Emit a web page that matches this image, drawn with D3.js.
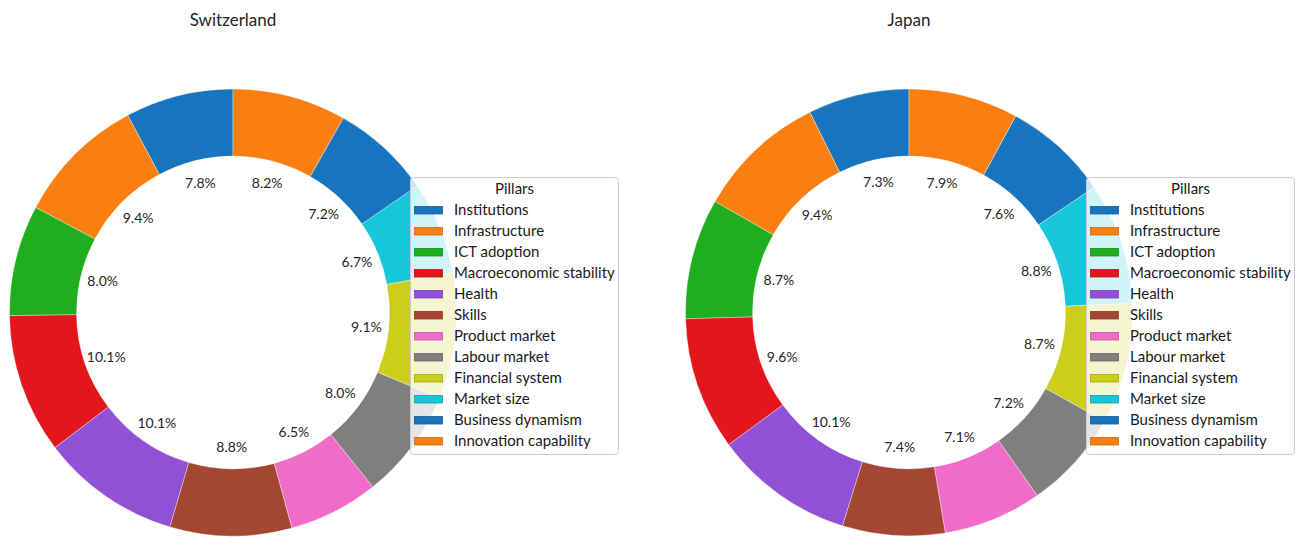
<!DOCTYPE html>
<html>
<head>
<meta charset="utf-8">
<script src="https://cdn.jsdelivr.net/npm/d3@7"></script>
<style>
  html, body { margin: 0; padding: 0; background: #ffffff; }
  svg { display: block; }
  text { font-family: Lato, "Noto Sans", sans-serif; }
</style>
</head>
<body>
<svg id="chart" width="1296" height="538"></svg>
<script>
// Global Competitiveness pillars and each pillar's share of the overall score (%)
const pillars = [
  "Institutions", "Infrastructure", "ICT adoption", "Macroeconomic stability",
  "Health", "Skills", "Product market", "Labour market",
  "Financial system", "Market size", "Business dynamism", "Innovation capability"
];
const countries = ["Switzerland", "Japan"];
const switzerlandShares = [7.8, 9.4, 8.0, 10.1, 10.1, 8.8, 6.5, 8.0, 9.1, 6.7, 7.2, 8.2];
const japanShares = [7.3, 9.4, 8.7, 9.6, 10.1, 7.4, 7.1, 7.2, 8.7, 8.8, 7.6, 7.9];

// Ten-colour categorical cycle; the eleventh and twelfth pillars wrap around
const palette = ["#1675be", "#fb7e10", "#1eae1e", "#e3161c", "#9150d6",
                 "#a34632", "#f06cc8", "#7f7f7f", "#cdcd1c", "#15c7d8"];

const svg = d3.select("#chart");
const color = d3.scaleOrdinal().domain(pillars).range(palette);

const panels = [
  { name: countries[0], shares: switzerlandShares, cx: 233, legendX: 410 },
  { name: countries[1], shares: japanShares, cx: 909, legendX: 1086 }
];

const cy = 312.5;
const outerR = 223.5;
const innerR = outerR * 0.7;
const labelR = outerR * 0.6;

// Wedges start at twelve o'clock and run counter-clockwise
const pie = d3.pie().sort(null).startAngle(0).endAngle(-2 * Math.PI);
const arc = d3.arc().innerRadius(innerR).outerRadius(outerR);

panels.forEach(p => {
  const data = p.shares.map((v, i) => ({ pillar: pillars[i], value: v }));
  const arcs = pie.value(d => d.value)(data);

  const g = svg.append("g").attr("transform", `translate(${p.cx},${cy})`);

  g.selectAll("path.wedge")
    .data(arcs)
    .join("path")
    .attr("class", "wedge")
    .attr("d", arc)
    .attr("fill", (d, i) => palette[i % palette.length])
    .attr("stroke", "#ffffff")
    .attr("stroke-opacity", 0.6)
    .attr("stroke-width", 0.6);

  g.selectAll("text.pct")
    .data(arcs)
    .join("text")
    .attr("class", "pct")
    .attr("x", d => labelR * Math.sin((d.startAngle + d.endAngle) / 2))
    .attr("y", d => -labelR * Math.cos((d.startAngle + d.endAngle) / 2))
    .attr("text-anchor", "middle")
    .attr("dominant-baseline", "central")
    .attr("font-size", 14)
    .attr("fill", "#262626")
    .text(d => d.data.value.toFixed(1) + "%");

  // Title
  svg.append("text")
    .attr("x", p.cx)
    .attr("y", 26)
    .attr("text-anchor", "middle")
    .attr("font-size", 17)
    .attr("fill", "#262626")
    .text(p.name);

  // Legend
  const lx = p.legendX, ly = 177, lw = 208, lh = 277;
  const lg = svg.append("g");
  lg.append("rect")
    .attr("x", lx + 0.5).attr("y", ly + 0.5)
    .attr("width", lw).attr("height", lh)
    .attr("rx", 3)
    .attr("fill", "#ffffff").attr("fill-opacity", 0.8)
    .attr("stroke", "#cccccc").attr("stroke-width", 1);

  lg.append("text")
    .attr("x", lx + lw / 2 + 0.5)
    .attr("y", 194)
    .attr("text-anchor", "middle")
    .attr("font-size", 15)
    .attr("fill", "#1a1a1a")
    .text("Pillars");

  const rowY = d3.scalePoint().domain(pillars).range([215, 215 + 21 * (pillars.length - 1)]);

  const rows = lg.selectAll("g.row")
    .data(pillars)
    .join("g")
    .attr("class", "row")
    .attr("transform", d => `translate(0,${rowY(d)})`);

  rows.append("rect")
    .attr("x", lx + 4.5).attr("y", -8.5)
    .attr("width", 28).attr("height", 7.5)
    .attr("fill", d => color(d))
    .attr("stroke", d => d3.color(color(d)).darker(0.6))
    .attr("stroke-width", 0.8);

  rows.append("text")
    .attr("x", lx + 44)
    .attr("y", 0)
    .attr("font-size", 15)
    .attr("fill", "#1a1a1a")
    .text(d => d);
});
</script>
</body>
</html>
